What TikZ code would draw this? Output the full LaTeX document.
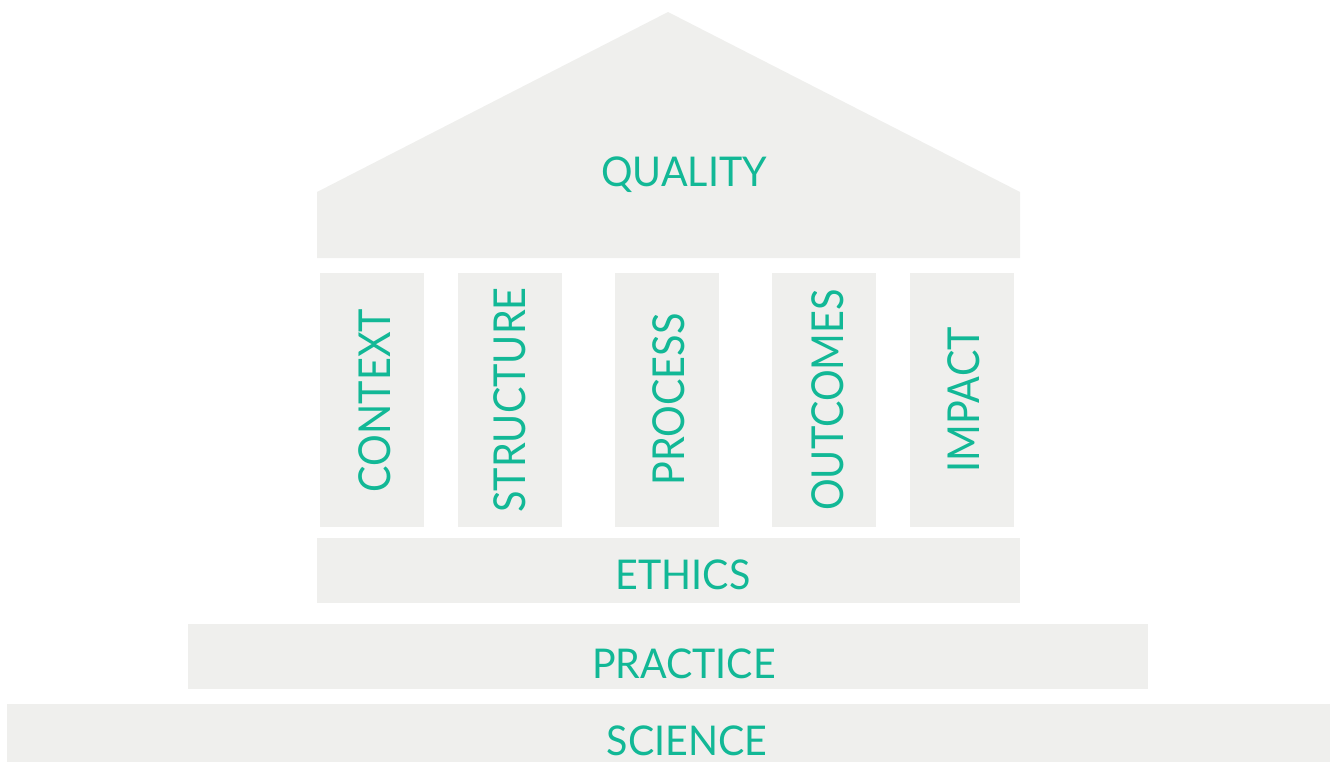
\documentclass[tikz,border=0pt]{standalone}
\usepackage{fontspec}
\setmainfont{Lato}
\definecolor{slab}{RGB}{239,239,237}
\definecolor{teal}{RGB}{18,184,150}
\begin{document}
\begin{tikzpicture}[x=1pt,y=-1pt,
  lbl/.style={text=teal,inner sep=0pt,anchor=base},
  hlbl/.style={lbl,font=\fontsize{41}{46}\selectfont,xscale=0.96},
  vlbl/.style={lbl,font=\fontsize{44}{48}\selectfont,rotate=90,xscale=0.9}]
\useasboundingbox (0,0) rectangle (1336,762);
% roof
\fill[slab] (317,258) -- (317,192) -- (668,12) -- (1020,192) -- (1020,258) -- cycle;
% columns
\foreach \xl in {320,458,615,772,910}
  \fill[slab] (\xl,273) rectangle ++(104,254);
% base slabs
\fill[slab] (317,538) rectangle (1020,603);
\fill[slab] (188,624) rectangle (1148,689);
\fill[slab] (7,704) rectangle (1330,762);
% labels
\node[hlbl] (quality) at (684,186.7) {QUALITY};
\node[vlbl] (context) at (390,400.5) {CONTEXT};
\node[vlbl] (structure) at (525,400) {STRUCTURE};
\node[vlbl] (process) at (684,399.5) {PROCESS};
\node[vlbl] (outcomes) at (843,400) {OUTCOMES};
\node[vlbl] (impact) at (979,400) {IMPACT};
\node[hlbl] (ethics) at (683,589) {ETHICS};
\node[hlbl] (practice) at (684,678) {PRACTICE};
\node[hlbl] (science) at (687,755) {SCIENCE};
\end{tikzpicture}
\end{document}
